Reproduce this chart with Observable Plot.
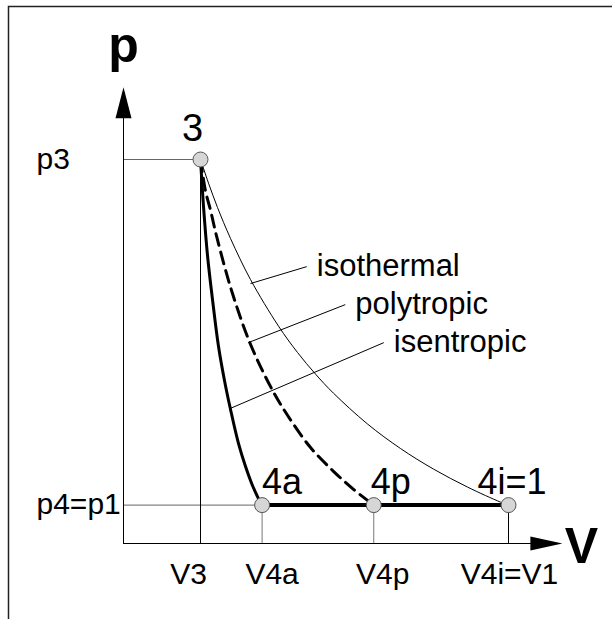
<!DOCTYPE html>
<html>
<head>
<meta charset="utf-8">
<script src="https://cdn.jsdelivr.net/npm/d3@7"></script>
<script src="https://cdn.jsdelivr.net/npm/@observablehq/plot@0.6"></script>
<style>
  html, body { margin: 0; padding: 0; background: #fff; }
  #chart svg { display: block; }
</style>
</head>
<body>
<div id="chart"></div>
<script>
// ---------- data ----------
const stateNames = ["3", "4a", "4p", "4i=1"];
const stateV = [1, 1.8, 3.25, 5];
const stateP = [10, 1, 1, 1];

const vTickLabels = ["V3", "V4a", "V4p", "V4i=V1"];
const vTickValues = [1, 1.8, 3.25, 5];
const pTickLabels = ["p3", "p4=p1"];
const pTickValues = [10, 1];

const isothermalV = [1, 1.104, 1.221, 1.390, 1.649, 2.013, 2.260, 2.494, 2.727, 3.169, 3.597, 4.026, 4.468, 4.896, 5];
const isothermalP = [10, 9.385, 8.75, 7.943, 6.875, 5.661, 4.974, 4.411, 3.914, 3.112, 2.474, 1.938, 1.469, 1.078, 1];

const polytropicV = [1, 1.065, 1.130, 1.208, 1.403, 1.649, 1.935, 2.130, 2.429, 2.727, 2.987, 3.25];
const polytropicP = [10, 9.18, 8.68, 8.01, 6.59, 5.19, 3.99, 3.34, 2.50, 1.88, 1.41, 1];

const isentropicV = [1, 1.039, 1.091, 1.156, 1.234, 1.312, 1.390, 1.494, 1.584, 1.675, 1.753, 1.8];
const isentropicP = [10, 8.78, 7.50, 6.35, 5.13, 4.24, 3.49, 2.60, 2.01, 1.51, 1.17, 1];

const curveNames = ["isothermal", "polytropic", "isentropic"];
const leaderFromV = [1.65, 1.62, 1.39];
const leaderFromP = [6.77, 5.23, 3.52];
const leaderToV = [2.38, 2.88, 3.38];
const leaderToP = [7.21, 6.22, 5.23];

const axisMaxV = 5.7;
const axisMaxP = 11.88;

// ---------- styles ----------
const FONT = "'Liberation Sans', Arial, Helvetica, sans-serif";
const guideColors = ["#000", "#777", "#777", "#000"];
const vTickDx = [-12, 10, 9, 1];
const stateDx = [0, 0, -3, -31];

const toRows = (V, P) => V.map((v, i) => ({V: v, p: P[i]}));
const idx = a => a.map((_, i) => i);

const arrowUp = {draw(ctx) { ctx.moveTo(0, 0); ctx.lineTo(-8, 31); ctx.lineTo(8, 31); ctx.closePath(); }};
const arrowRight = {draw(ctx) { ctx.moveTo(0, 0); ctx.lineTo(-32, -7); ctx.lineTo(-32, 7); ctx.closePath(); }};

const chart = Plot.plot({
  width: 612,
  height: 619,
  marginTop: 0, marginRight: 0, marginBottom: 0, marginLeft: 0,
  x: {domain: [0, 5], range: [123, 508], axis: null},
  y: {domain: [0, 10], range: [543, 159], axis: null},
  style: {fontFamily: FONT, background: "#fff", color: "#000"},
  marks: [
    Plot.frame({stroke: "#222", strokeWidth: 1.5, insetLeft: 8, insetTop: 6, insetRight: -40, insetBottom: -40}),
    // guide lines to the p axis
    Plot.ruleY(idx(pTickValues), {y: i => pTickValues[i], x1: 0, x2: i => stateV[i], stroke: "#666", strokeWidth: 1}),
    // guide lines to the V axis
    Plot.ruleX(idx(stateV), {x: i => stateV[i], y1: 0, y2: i => stateP[i], stroke: i => guideColors[i], strokeWidth: 1}),
    // axes
    Plot.ruleY([0], {x1: 0, x2: axisMaxV - 0.3, stroke: "#000", strokeWidth: 1}),
    Plot.ruleX([0], {y1: 0, y2: axisMaxP - 0.5, stroke: "#000", strokeWidth: 1}),
    Plot.dot([0], {x: 0, y: axisMaxP, symbol: arrowUp, fill: "#000", stroke: "none"}),
    Plot.dot([0], {x: axisMaxV, y: 0, symbol: arrowRight, fill: "#000", stroke: "none"}),
    // process 4a -> 4i at constant pressure
    Plot.ruleY([stateP[1]], {x1: stateV[1], x2: stateV[3], stroke: "#000", strokeWidth: 4}),
    // expansion curves
    Plot.line(toRows(isothermalV, isothermalP), {x: "V", y: "p", curve: "catmull-rom", stroke: "#000", strokeWidth: 1}),
    Plot.line(toRows(polytropicV, polytropicP), {x: "V", y: "p", curve: "catmull-rom", stroke: "#000", strokeWidth: 3, strokeDasharray: "12,7"}),
    Plot.line(toRows(isentropicV, isentropicP), {x: "V", y: "p", curve: "catmull-rom", stroke: "#000", strokeWidth: 3}),
    // leaders
    Plot.link(idx(curveNames), {x1: i => leaderFromV[i], y1: i => leaderFromP[i], x2: i => leaderToV[i], y2: i => leaderToP[i], stroke: "#000", strokeWidth: 1}),
    // state points
    Plot.dot(idx(stateNames), {x: i => stateV[i], y: i => stateP[i], r: 7.5, fill: "#d6d6d6", stroke: "#555", strokeWidth: 1}),
    // curve labels
    Plot.text(idx(curveNames), {x: i => leaderToV[i], y: i => leaderToP[i], text: i => curveNames[i], textAnchor: "start", lineAnchor: "bottom", dx: 10, dy: 9, fontSize: 31, fill: "#000"}),
    // state labels
    Plot.text([0], {x: stateV[0], y: stateP[0], text: [stateNames[0]], textAnchor: "middle", lineAnchor: "bottom", dx: -8, dy: -19, fontSize: 38, fill: "#000"}),
    ...[1, 2, 3].map(i => Plot.text([i], {x: stateV[i], y: stateP[i], text: [stateNames[i]], textAnchor: "start", lineAnchor: "bottom", dx: stateDx[i], dy: -11, fontSize: 36, fill: "#000"})),
    // tick labels
    ...idx(vTickLabels).map(i => Plot.text([i], {x: vTickValues[i], y: 0, text: [vTickLabels[i]], textAnchor: "middle", lineAnchor: "bottom", dx: vTickDx[i], dy: 40, fontSize: 30, fill: "#000"})),
    Plot.text(idx(pTickLabels), {x: 0, y: i => pTickValues[i], text: i => pTickLabels[i], textAnchor: "start", lineAnchor: "bottom", dx: -87, dy: 9, fontSize: 30, fill: "#000"}),
    // axis titles
    Plot.text(["p"], {x: 0, y: axisMaxP, text: d => d, textAnchor: "middle", lineAnchor: "bottom", dy: -25, fontSize: 50, fontWeight: "bold", fill: "#000"}),
    Plot.text(["V"], {x: axisMaxV, y: 0, text: d => d, textAnchor: "middle", lineAnchor: "bottom", dx: 19, dy: 19, fontSize: 50, fontWeight: "bold", fill: "#000"})
  ]
});
document.getElementById("chart").append(chart);
</script>
</body>
</html>
